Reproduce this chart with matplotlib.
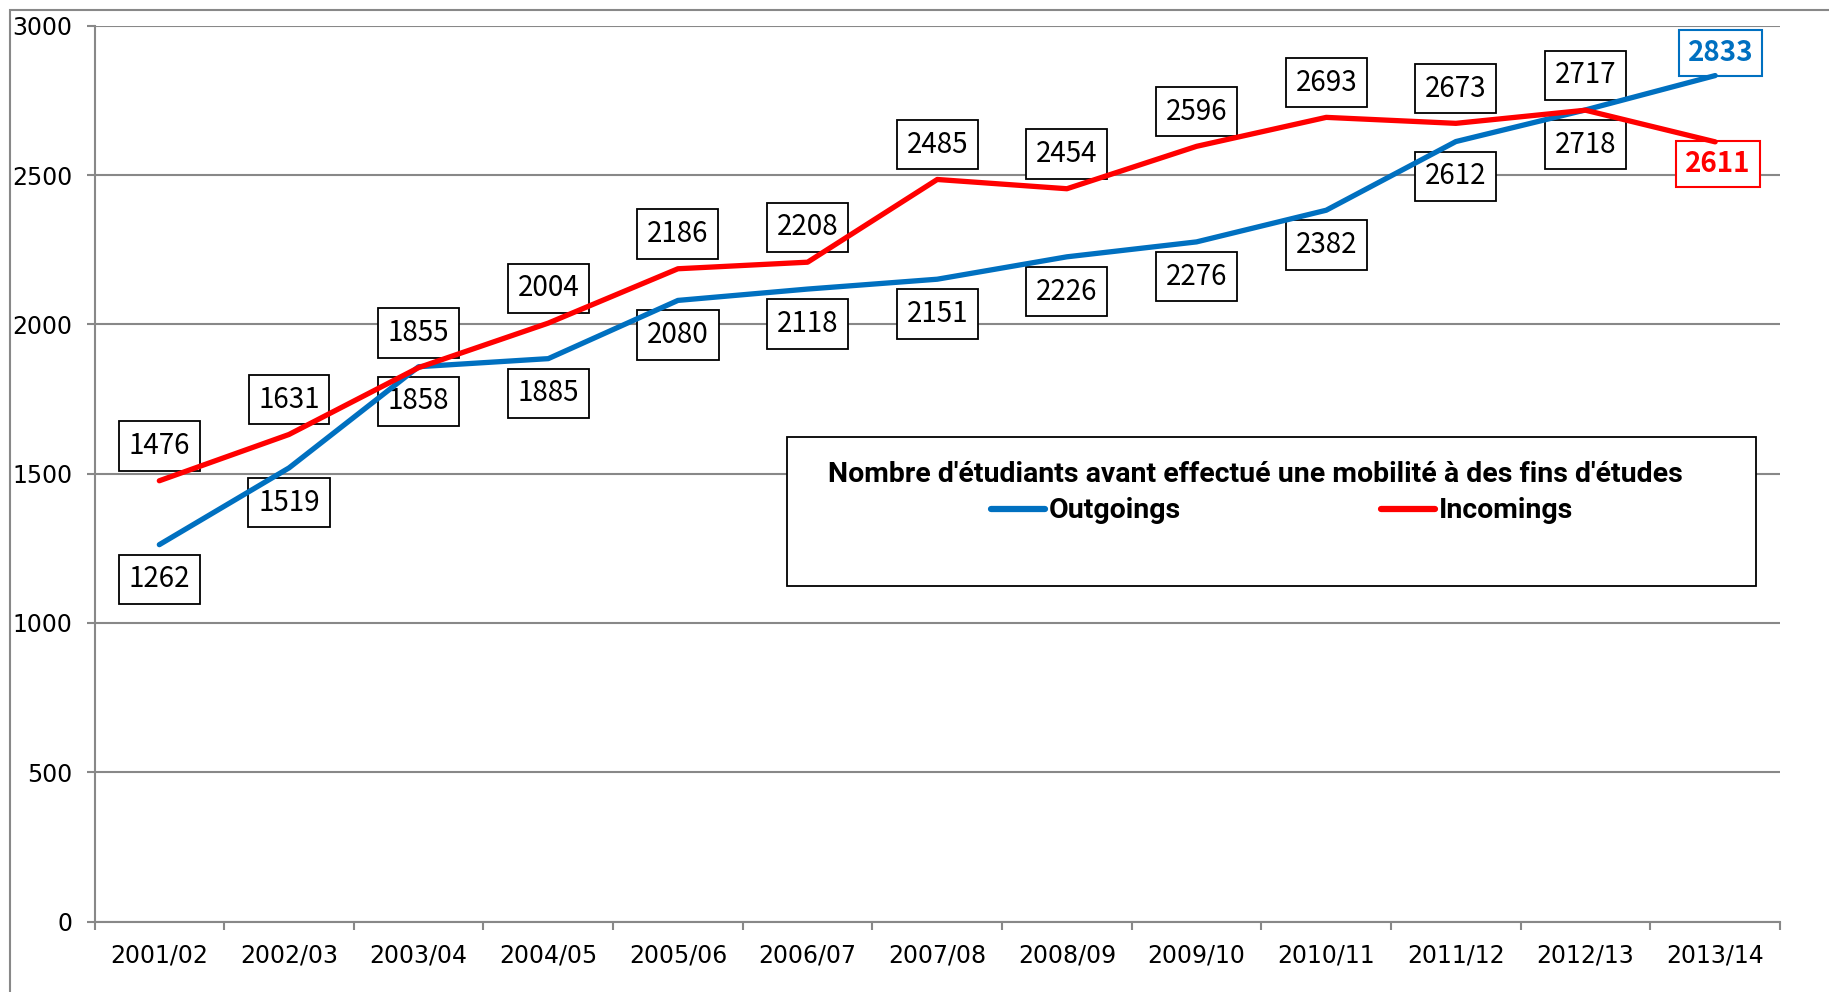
import matplotlib
matplotlib.use('Agg')
import matplotlib.pyplot as plt
from matplotlib.patches import Rectangle
import numpy as np

years = ['2001/02', '2002/03', '2003/04', '2004/05', '2005/06', '2006/07', '2007/08',
         '2008/09', '2009/10', '2010/11', '2011/12', '2012/13', '2013/14']
outgoings = [1262, 1519, 1858, 1885, 2080, 2118, 2151, 2226, 2276, 2382, 2612, 2718, 2833]
incomings = [1476, 1631, 1855, 2004, 2186, 2208, 2485, 2454, 2596, 2693, 2673, 2717, 2611]
yticks = [0, 500, 1000, 1500, 2000, 2500, 3000]

BLUE = '#0070C0'
RED = '#FF0000'
GRID = '#888888'
W, H = 1829, 992

plt.rcParams['font.family'] = ['Noto Sans CJK JP', 'DejaVu Sans']

fig = plt.figure(figsize=(W / 100, H / 100), dpi=100)
ax = fig.add_axes([94.5 / W, 1 - 921.5 / H, (1780 - 94.5) / W, (921.5 - 25.7) / H])

# outer chart frame (cut at the right and bottom)
fig.patches.append(Rectangle((10 / W, -0.1), 1.2, 1 - 10 / H + 0.1, transform=fig.transFigure,
                             fill=False, edgecolor=GRID, linewidth=1.5))

x = np.arange(len(years))
ax.plot(x, outgoings, color=BLUE, lw=3.8, label='Outgoings', solid_capstyle='round', zorder=5)
ax.plot(x, incomings, color=RED, lw=3.8, label='Incomings', solid_capstyle='round', zorder=5)

ax.set_xlim(-0.5, len(years) - 0.5)
ax.set_ylim(0, 3000)
ax.set_yticks(yticks)
ax.set_yticklabels([str(v) for v in yticks], fontsize=17, family='DejaVu Sans')
ax.set_xticks(x)
ax.set_xticklabels(years, fontsize=17, family='DejaVu Sans')
ax.set_xticks(np.arange(-0.5, len(years)), minor=True)
ax.tick_params(axis='x', which='major', length=0, pad=16)
ax.tick_params(axis='x', which='minor', length=6, width=1.5, color=GRID, direction='out')
ax.tick_params(axis='y', length=6, width=1.5, color=GRID, direction='out', pad=10)
ax.grid(axis='y', color=GRID, lw=1.5)
ax.set_axisbelow(True)
for s in ['top', 'right']:
    ax.spines[s].set_visible(False)
for s in ['left', 'bottom']:
    ax.spines[s].set_color(GRID)
    ax.spines[s].set_linewidth(1.5)

box = dict(boxstyle='square,pad=0.35', fc='white', ec='black', lw=1.3)
n = len(years)
for i in range(n - 1):
    ax.annotate(str(incomings[i]), (x[i], incomings[i]), xytext=(0, 25), textcoords='offset points',
                ha='center', va='center', fontsize=20, bbox=box, zorder=4)
    ax.annotate(str(outgoings[i]), (x[i], outgoings[i]), xytext=(0, -25), textcoords='offset points',
                ha='center', va='center', fontsize=20, bbox=box, zorder=4)

ax.annotate(str(outgoings[-1]), (x[-1], outgoings[-1]), xytext=(4, 16), textcoords='offset points',
            ha='center', va='center', fontsize=20, fontweight='bold', color=BLUE,
            bbox=dict(boxstyle='square,pad=0.32', fc='white', ec=BLUE, lw=1.5), zorder=4)
ax.annotate(str(incomings[-1]), (x[-1], incomings[-1]), xytext=(2, -16), textcoords='offset points',
            ha='center', va='center', fontsize=20, fontweight='bold', color=RED,
            bbox=dict(boxstyle='square,pad=0.32', fc='white', ec=RED, lw=1.5), zorder=4)

# legend box with title and entries
fig.patches.append(Rectangle((787 / W, 1 - 586 / H), (1756 - 787) / W, (586 - 437) / H,
                             transform=fig.transFigure, fc='white', ec='black', lw=1.3, zorder=5))
legfont = {'family': ['Roboto', 'DejaVu Sans'], 'weight': 'bold', 'size': 20.5}
fig.text(1255 / W, 1 - 474 / H, "Nombre d'étudiants avant effectué une mobilité à des fins d'études",
         ha='center', va='center', fontproperties=legfont, zorder=6)
leg = fig.legend(loc='center', bbox_to_anchor=(1282 / W, 1 - 511 / H), ncol=2,
                 frameon=False, handlelength=1.9, handletextpad=0.15, columnspacing=7.0,
                 borderpad=0, prop=legfont)
leg.set_zorder(6)
for h in leg.legend_handles:
    h.set_linewidth(4.5)

fig.savefig('out.png', dpi=100)
